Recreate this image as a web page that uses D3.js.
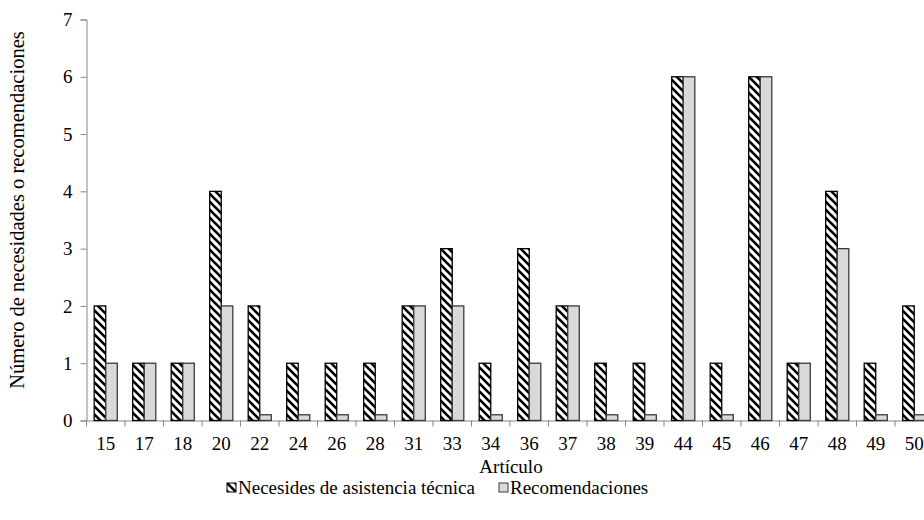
<!DOCTYPE html>
<html><head><meta charset="utf-8">
<script src="https://cdn.jsdelivr.net/npm/d3@7"></script>
<style>
html,body{margin:0;padding:0;background:#fff;overflow:hidden}
svg text{font-family:"Liberation Serif","Times New Roman",Times,serif !important;fill:#000}
</style></head>
<body><svg id="c" width="924" height="520" font-family="Liberation Serif, Times New Roman, serif"></svg>
<script>
const categories = ["15","17","18","20","22","24","26","28","31","33","34","36","37","38","39","44","45","46","47","48","49","50"];
const necesidades = [2,1,1,4,2,1,1,1,2,3,1,3,2,1,1,6,1,6,1,4,1,2];
const recomendaciones = [1,1,1,2,0.1,0.1,0.1,0.1,2,2,0.1,1,2,0.1,0.1,6,0.1,6,1,3,0.1,0.1];
const yTicks = [0,1,2,3,4,5,6,7];
const seriesNames = ["Necesides de asistencia técnica","Recomendaciones"];

const FONT = "Liberation Serif, Times New Roman, serif";
const svg = d3.select("#c");
const defs = svg.append("defs");
const pat = defs.append("pattern").attr("id","hatch").attr("patternUnits","userSpaceOnUse")
  .attr("width",8).attr("height",8);
pat.append("rect").attr("width",8).attr("height",8).attr("fill","#fff");
pat.append("path").attr("d","M0,0 L8,8 M-4,4 L4,12 M4,-4 L12,4")
  .attr("stroke","#000").attr("stroke-width",2.6);

const x0 = 86.5, step = 38.5;
const x = d3.scaleBand().domain(categories).range([x0, x0 + step*categories.length]).padding(0);
const y = d3.scaleLinear().domain([0,7]).range([420.5,19.5]);
const bw = x.bandwidth()*0.3;

// axes
const axisColor = "#868686";
const gy = svg.append("g").attr("transform",`translate(${x0},0)`)
  .call(d3.axisLeft(y).tickValues(yTicks).tickSize(6).tickPadding(8).tickFormat(d3.format("d")));
const gx = svg.append("g").attr("transform",`translate(0,${y(0)})`)
  .call(d3.axisBottom(x).tickSize(0).tickPadding(16));
svg.append("g").selectAll("line").data(categories).join("line")
  .attr("x1",d=>x(d)).attr("x2",d=>x(d)).attr("y1",y(0)).attr("y2",y(0)+6)
  .attr("stroke",axisColor).attr("stroke-width",1);
[gy,gx].forEach(g=>{
  g.attr("font-family",FONT).attr("font-size",19);
  g.selectAll("path.domain").attr("stroke",axisColor).attr("stroke-width",1);
  g.selectAll(".tick line").attr("stroke",axisColor);
  g.selectAll("text").attr("font-family",FONT).attr("font-size",19).attr("fill","#000");
});
gx.select("path.domain").attr("d",`M${x0},0.5H${x0+step*categories.length}`);

// bars
const bars = svg.append("g");
bars.selectAll("rect.n").data(categories).join("rect").attr("class","n")
  .attr("x",(d,i)=>x(d)+x.bandwidth()/2-bw).attr("width",bw)
  .attr("y",(d,i)=>y(necesidades[i])).attr("height",(d,i)=>y(0)-y(necesidades[i]))
  .attr("fill","url(#hatch)").attr("stroke","#000").attr("stroke-width",1.3);
bars.selectAll("rect.r").data(categories).join("rect").attr("class","r")
  .attr("x",(d,i)=>x(d)+x.bandwidth()/2).attr("width",bw)
  .attr("y",(d,i)=>y(recomendaciones[i])).attr("height",(d,i)=>y(0)-y(recomendaciones[i]))
  .attr("fill","#d9d9d9").attr("stroke","#3a3a3a").attr("stroke-width",1.3);

// axis titles
svg.append("text").attr("x",511).attr("y",473).attr("text-anchor","middle")
  .attr("font-family",FONT).attr("font-size",19).text("Artículo");
svg.append("text").attr("transform","translate(24,210) rotate(-90)").attr("text-anchor","middle")
  .attr("font-family",FONT).attr("font-size",20.5).text("Número de necesidades o recomendaciones");

// legend
const leg = svg.append("g");
const legX = [227, 499];
leg.selectAll("rect").data(seriesNames).join("rect")
  .attr("x",(d,i)=>legX[i]).attr("y",483).attr("width",9).attr("height",9)
  .attr("fill",(d,i)=>i===0?"url(#hatch)":"#d9d9d9").attr("stroke",(d,i)=>i===0?"#000":"#3a3a3a").attr("stroke-width",1);
leg.selectAll("text").data(seriesNames).join("text")
  .attr("x",(d,i)=>legX[i]+11).attr("y",494).attr("font-family",FONT).attr("font-size",19).text(d=>d);
</script></body></html>
